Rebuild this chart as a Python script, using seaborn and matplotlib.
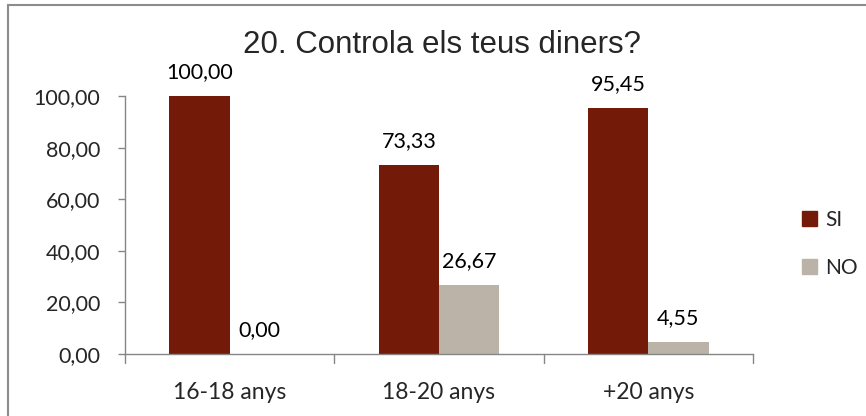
import matplotlib
matplotlib.use("Agg")
import matplotlib.pyplot as plt
import seaborn as sns
import pandas as pd
from matplotlib.patches import Rectangle

# Survey results by age group (percentages)
categories = ["16-18 anys", "18-20 anys", "+20 anys"]
si_values = [100.00, 73.33, 95.45]
no_values = [0.00, 26.67, 4.55]
series_names = ["SI", "NO"]
y_ticks = [0, 20, 40, 60, 80, 100]
title = "20. Controla els teus diners?"

colors = {"SI": "#731A08", "NO": "#BBB3A8"}
axis_gray = "#868686"

df = pd.DataFrame({
    "grup": categories * 2,
    "serie": [series_names[0]] * len(categories) + [series_names[1]] * len(categories),
    "valor": si_values + no_values,
})

sns.set_theme(style="white")
plt.rcParams["font.family"] = ["Lato", "DejaVu Sans"]

fig = plt.figure(figsize=(8.66, 4.16), dpi=100)
ax = fig.add_axes([125 / 866, 1 - 354 / 416, 628 / 866, 258 / 416])

sns.barplot(data=df, x="grup", y="valor", hue="serie", palette=colors,
            width=0.575, saturation=1, linewidth=0, ax=ax, legend=True)

ax.set_ylim(0, 100)
ax.set_xlim(-0.5, 2.5)
ax.set_yticks(y_ticks)
ax.set_yticklabels([f"{v:.2f}".replace(".", ",") for v in y_ticks], fontsize=15.5)
ax.set_xlabel("")
ax.set_ylabel("")
ax.tick_params(axis="x", length=0, pad=20, labelsize=16.5)
ax.tick_params(axis="y", length=5, width=1, color=axis_gray, direction="out", pad=13, left=True)

# category boundary ticks on the x axis
for xb in [-0.5, 0.5, 1.5, 2.5]:
    ax.plot([xb, xb], [0, -3.5], color=axis_gray, lw=1, clip_on=False)

for side in ["top", "right"]:
    ax.spines[side].set_visible(False)
for side in ["left", "bottom"]:
    ax.spines[side].set_color(axis_gray)
    ax.spines[side].set_linewidth(1)

# value labels above each bar
for container in ax.containers:
    labels = [f"{b.get_height():.2f}".replace(".", ",") for b in container]
    ax.bar_label(container, labels=labels, padding=10, fontsize=15.5, color="black")

ax.legend_.remove()
handles = [Rectangle((0, 0), 1, 1, color=colors[s]) for s in series_names]
fig.legend(handles, series_names, loc="center left", bbox_to_anchor=(783 / 866, 1 - 244 / 416),
           frameon=False, fontsize=15, handlelength=0.72, handleheight=0.72,
           labelspacing=1.35, handletextpad=0.4)

fig.text(442 / 866, 1 - 45 / 416, title, ha="center", va="center", fontsize=22.5,
         family=["Liberation Sans", "DejaVu Sans"])

# outer chart frame
fig.patches.append(Rectangle((8 / 866, -0.05), 1.1, 1 - 5 / 416 + 0.05, transform=fig.transFigure,
                             fill=False, edgecolor="#8c8c8c", lw=1.5))

fig.savefig("out.png", dpi=100)
